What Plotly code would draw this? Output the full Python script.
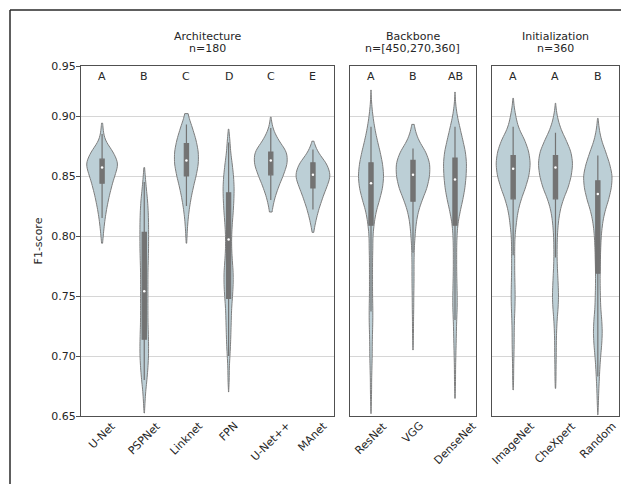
import numpy as np
import plotly.graph_objects as go
from plotly.subplots import make_subplots

# ---------------- data ----------------
# score levels (F1) and, per group, how many runs sit at each level
bins = [0.65, 0.66, 0.67, 0.68, 0.69, 0.70, 0.71, 0.72, 0.73, 0.74,
        0.75, 0.76, 0.77, 0.78, 0.79, 0.80, 0.81, 0.82, 0.83, 0.84,
        0.85, 0.86, 0.87, 0.88, 0.89, 0.90, 0.91, 0.92]

panel_titles = ["Architecture", "Backbone", "Initialization"]
panel_ns = ["n=180", "n=[450,270,360]", "n=360"]

arch_names = ["U-Net", "PSPNet", "Linknet", "FPN", "U-Net++", "MAnet"]
arch_letters = ["A", "B", "C", "D", "C", "E"]
arch_counts = [
    [0,0,0,0,0, 0,0,0,0,0, 0,0,0,0,0, 4,8,14,22,32, 44,60,40,8,3, 0,0,0],      # U-Net
    [0,2,4,8,11, 13,13,12,11,11, 11,11,11,12,13, 13,13,12,10,6, 3,0,0,0,0, 0,0,0],  # PSPNet
    [0,0,0,0,0, 0,0,0,0,0, 0,0,0,0,0, 2,4,8,14,22, 32,40,40,32,20, 6,0,0],     # Linknet
    [0,0,0,2,2, 4,6,7,8,9, 12,14,14,11,9, 9,11,14,16,17, 15,11,6,4,0, 0,0,0],  # FPN
    [0,0,0,0,0, 0,0,0,0,0, 0,0,0,0,0, 0,0,4,12,26, 44,60,60,26,6, 0,0,0],      # U-Net++
    [0,0,0,0,0, 0,0,0,0,0, 0,0,0,0,0, 0,8,18,32,48, 66,52,16,0,0, 0,0,0],      # MAnet
]
arch_low = [0.794, 0.6525, 0.794, 0.670, 0.820, 0.803]
arch_high = [0.894, 0.857, 0.902, 0.889, 0.899, 0.879]
# inner box: whisker ends, quartiles and median
arch_lf = [0.815, 0.680, 0.825, 0.700, 0.830, 0.822]
arch_q1 = [0.844, 0.714, 0.850, 0.748, 0.851, 0.840]
arch_med = [0.857, 0.754, 0.863, 0.797, 0.863, 0.851]
arch_q3 = [0.864, 0.803, 0.877, 0.836, 0.870, 0.861]
arch_uf = [0.885, 0.845, 0.893, 0.878, 0.890, 0.872]

backbone_names = ["ResNet", "VGG", "DenseNet"]
backbone_letters = ["A", "B", "AB"]
backbone_counts = [
    [0,1,2,2,3, 4,4,5,6,6, 5,5,5,5,6, 6,10,16,28,38, 42,38,30,20,12, 6,2,0],   # ResNet
    [0,0,0,0,0, 0,1,2,2,3, 3,4,4,4,5, 8,12,20,36,56, 66,68,52,20,6, 0,0,0],    # VGG
    [0,0,1,2,2, 3,4,5,6,8, 8,7,6,6,6, 7,10,18,28,36, 40,42,38,28,18, 8,2,0],   # DenseNet
]
backbone_low = [0.652, 0.705, 0.6647]
backbone_high = [0.9217, 0.893, 0.920]
backbone_lf = [0.737, 0.786, 0.730]
backbone_q1 = [0.809, 0.829, 0.809]
backbone_med = [0.844, 0.851, 0.847]
backbone_q3 = [0.861, 0.863, 0.865]
backbone_uf = [0.891, 0.873, 0.891]

init_names = ["ImageNet", "CheXpert", "Random"]
init_letters = ["A", "A", "B"]
init_counts = [
    [0,0,0,2,2, 3,4,4,5,7, 8,7,6,6,6, 7,12,18,30,48, 62,68,62,46,20, 10,2,0],  # ImageNet
    [0,0,0,2,2, 3,3,4,6,10, 12,10,8,6,6, 7,10,16,28,48, 60,66,60,40,18, 6,0,0], # CheXpert
    [0,2,3,5,7, 10,14,16,14,10, 9,8,8,9,10, 12,16,24,38,48, 52,42,28,12,4, 0,0,0], # Random
]
init_low = [0.6717, 0.673, 0.651]
init_high = [0.9147, 0.9106, 0.898]
init_lf = [0.784, 0.782, 0.683]
init_q1 = [0.831, 0.831, 0.769]
init_med = [0.856, 0.857, 0.835]
init_q3 = [0.867, 0.867, 0.846]
init_uf = [0.891, 0.886, 0.867]

y_tick_text = ["0.65", "0.70", "0.75", "0.80", "0.85", "0.90", "0.95"]

# ---------------- style ----------------
OFF = 8                      # page body margin of the browser
W, H = 629 - OFF, 484 - OFF
ML, MR, MT, MB = 81 - OFF, 10, 66 - OFF, 68
PH = H - MT - MB             # plot height in px (350)
PW = W - ML - MR             # plot width in px (538)
Y_LO, Y_HI = 0.65, 0.94167
BW = 0.006
FILL = "rgb(188,207,214)"
EDGE = "rgb(125,125,125)"
BOXC = "rgb(115,115,115)"
GRID = "rgb(214,214,214)"
FRAME = "rgb(80,80,80)"
TXT = "#262626"
FONT = "DejaVu Sans"
domains = [[0.0, 0.4703], [0.5, 0.7342], [0.7639, 1.0]]


def page_y_to_paper(y_page):
    return (H - MB - (y_page - OFF)) / PH


def page_x_to_paper(x_page):
    return ((x_page - OFF) - ML) / PW


panels = [
    (arch_names, arch_letters, arch_counts, arch_low, arch_high,
     arch_lf, arch_q1, arch_med, arch_q3, arch_uf),
    (backbone_names, backbone_letters, backbone_counts, backbone_low, backbone_high,
     backbone_lf, backbone_q1, backbone_med, backbone_q3, backbone_uf),
    (init_names, init_letters, init_counts, init_low, init_high,
     init_lf, init_q1, init_med, init_q3, init_uf),
]

fig = make_subplots(rows=1, cols=3)
annotations = []

for p, (names, letters, counts, lows, highs, lfs, q1s, meds, q3s, ufs) in enumerate(panels):
    col = p + 1
    xref = "x" if p == 0 else f"x{col}"
    yref = "y" if p == 0 else f"y{col}"
    samples = [np.repeat(np.array(bins), np.array(c)) for c in counts]
    # equal-area scaling: violin width proportional to its peak density
    peaks = []
    for vals, lo, hi in zip(samples, lows, highs):
        g = np.linspace(lo, hi, 600)
        d = np.exp(-0.5 * ((g[:, None] - vals[None, :]) / BW) ** 2).sum(axis=1) / (len(vals) * BW)
        peaks.append(d.max())
    pmax = max(peaks)
    for name, vals, lo, hi, pk in zip(names, samples, lows, highs, peaks):
        vw = 0.8 * pk / pmax
        fig.add_trace(go.Violin(
            x=[name] * len(vals), y=vals, name=name,
            scalemode="width", width=vw,
            bandwidth=BW, spanmode="manual", span=[lo, hi],
            fillcolor=FILL, line=dict(color=EDGE, width=1),
            box=dict(visible=False), meanline=dict(visible=False), points=False,
            showlegend=False, hoverinfo="skip"), row=1, col=col)
    fig.add_trace(go.Box(
        x=names, q1=q1s, median=meds, q3=q3s, lowerfence=lfs, upperfence=ufs,
        width=0.1, whiskerwidth=0, fillcolor=BOXC,
        line=dict(color=BOXC, width=1.2), boxpoints=False,
        showlegend=False, hoverinfo="skip"), row=1, col=col)
    fig.add_trace(go.Scatter(
        x=names, y=meds, mode="markers",
        marker=dict(color="white", size=2.5), showlegend=False,
        hoverinfo="skip"), row=1, col=col)
    for name, let in zip(names, letters):
        annotations.append(dict(x=name, y=0.933, xref=xref, yref=yref,
                                text=let, showarrow=False,
                                font=dict(family=FONT, size=11, color=TXT)))
        annotations.append(dict(x=name, y=0, xref=xref, yref="paper",
                                text=name, showarrow=False, textangle=-45,
                                xanchor="center", yanchor="top", yshift=-2,
                                borderpad=0,
                                font=dict(family=FONT, size=11, color=TXT)))
    annotations.append(dict(x=0.5, y=page_y_to_paper(36.5),
                            xref=f"{xref} domain", yref="paper",
                            text=panel_titles[p], showarrow=False, yanchor="middle",
                            font=dict(family=FONT, size=11, color=TXT)))
    annotations.append(dict(x=0.5, y=page_y_to_paper(48.5),
                            xref=f"{xref} domain", yref="paper",
                            text=panel_ns[p], showarrow=False, yanchor="middle",
                            font=dict(family=FONT, size=11, color=TXT)))

    fig.update_xaxes(domain=domains[p], type="category", categoryorder="array",
                     categoryarray=names, range=[-0.5, len(names) - 0.5],
                     showticklabels=False, ticks="", showgrid=False,
                     showline=True, mirror=True, linecolor=FRAME, linewidth=1,
                     zeroline=False, row=1, col=col)
    fig.update_yaxes(range=[Y_LO, Y_HI], showgrid=True, gridcolor=GRID, gridwidth=1,
                     tickvals=[0.65, 0.70, 0.75, 0.80, 0.85, 0.90, Y_HI],
                     ticktext=y_tick_text, zeroline=False,
                     showline=True, mirror=True, linecolor=FRAME, linewidth=1,
                     row=1, col=col)
    if p == 0:
        fig.update_yaxes(ticks="outside", ticklen=4, tickcolor=FRAME, showticklabels=True,
                         ticklabelstandoff=-2,
                         tickfont=dict(family=FONT, size=11, color=TXT),
                         title=dict(text="F1-score", standoff=6,
                                    font=dict(family=FONT, size=11, color=TXT)),
                         row=1, col=col)
    else:
        fig.update_yaxes(ticks="", showticklabels=False, row=1, col=col)

# outer figure frame (only top and left edges are visible in the canvas)
bx = page_x_to_paper(10)
by = page_y_to_paper(10)
shapes = [
    dict(type="line", xref="paper", yref="paper", x0=bx, y0=by, x1=1.2, y1=by,
         line=dict(color="rgb(40,40,40)", width=1.5)),
    dict(type="line", xref="paper", yref="paper", x0=bx, y0=by, x1=bx, y1=-0.4,
         line=dict(color="rgb(40,40,40)", width=1.5)),
]

fig.update_layout(width=W, height=H, margin=dict(l=ML, r=MR, t=MT, b=MB),
                  paper_bgcolor="white", plot_bgcolor="white",
                  violinmode="overlay", boxmode="overlay",
                  annotations=annotations, shapes=shapes,
                  font=dict(family=FONT, size=11, color=TXT))

fig.write_html("out.html")
